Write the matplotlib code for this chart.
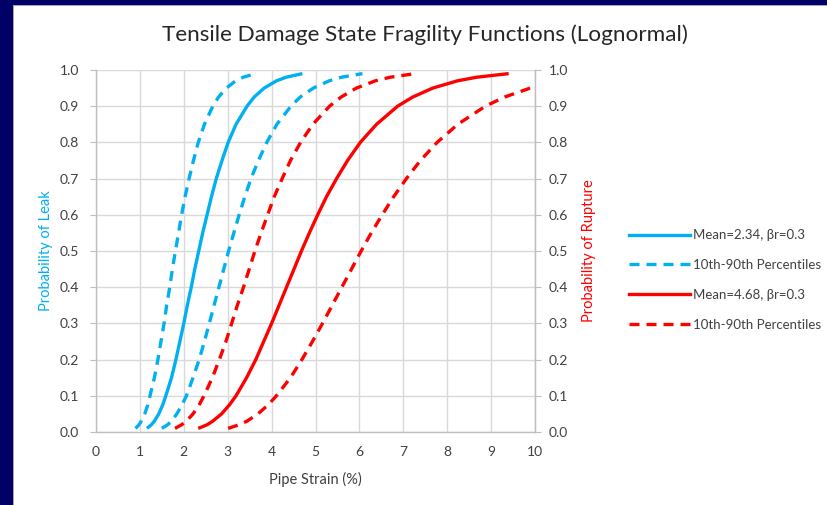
import matplotlib
matplotlib.use("Agg")
import matplotlib.pyplot as plt
from matplotlib.patches import Rectangle
from matplotlib.lines import Line2D

prob = [0.01, 0.02, 0.03, 0.05, 0.075, 0.10, 0.15, 0.20, 0.25, 0.30, 0.35, 0.40, 0.45,
        0.50, 0.55, 0.60, 0.65, 0.70, 0.75, 0.80, 0.85, 0.90, 0.925, 0.95, 0.97, 0.98, 0.99]

# Leak (blue) curves: pipe strain (%) at each probability level
leak_mean = [1.16, 1.26, 1.33, 1.43, 1.52, 1.59, 1.72, 1.82, 1.91, 2.00, 2.08, 2.17, 2.25,
             2.34, 2.43, 2.53, 2.63, 2.74, 2.87, 3.01, 3.19, 3.44, 3.60, 3.83, 4.11, 4.33, 4.70]
leak_p10 = [0.90, 0.98, 1.03, 1.11, 1.18, 1.23, 1.33, 1.41, 1.48, 1.55, 1.61, 1.68, 1.74,
            1.81, 1.88, 1.95, 2.03, 2.12, 2.22, 2.33, 2.47, 2.66, 2.79, 2.97, 3.18, 3.35, 3.64]
leak_p90 = [1.50, 1.63, 1.72, 1.84, 1.96, 2.06, 2.21, 2.35, 2.47, 2.58, 2.69, 2.80, 2.91,
            3.02, 3.14, 3.26, 3.39, 3.53, 3.70, 3.89, 4.12, 4.44, 4.65, 4.95, 5.31, 5.59, 6.07]

# Rupture (red) curves
rup_mean = [2.33, 2.53, 2.66, 2.86, 3.04, 3.19, 3.43, 3.64, 3.82, 4.00, 4.17, 4.34, 4.51,
            4.68, 4.86, 5.05, 5.25, 5.48, 5.73, 6.02, 6.39, 6.87, 7.21, 7.67, 8.23, 8.67, 9.40]
rup_p10 = [1.80, 1.95, 2.06, 2.21, 2.35, 2.46, 2.65, 2.81, 2.96, 3.09, 3.22, 3.36, 3.49,
           3.62, 3.76, 3.91, 4.06, 4.24, 4.43, 4.66, 4.94, 5.32, 5.58, 5.93, 6.36, 6.70, 7.27]
rup_p90 = [3.01, 3.26, 3.44, 3.69, 3.92, 4.11, 4.43, 4.69, 4.93, 5.16, 5.38, 5.60, 5.82,
           6.04, 6.27, 6.52, 6.78, 7.07, 7.39, 7.77, 8.24, 8.87, 9.30, 9.89, 10.62, 11.18, 12.14]

x_ticks = [0, 1, 2, 3, 4, 5, 6, 7, 8, 9, 10]
y_ticks = [0.0, 0.1, 0.2, 0.3, 0.4, 0.5, 0.6, 0.7, 0.8, 0.9, 1.0]
legend_labels = ["Mean=2.34, \u03b2r=0.3", "10th-90th Percentiles",
                 "Mean=4.68, \u03b2r=0.3", "10th-90th Percentiles"]

BLUE = "#00B0F0"
RED = "#FF0000"
GRID = "#D9D9D9"
TXT = "#404040"

plt.rcParams['font.family'] = ['Lato', 'DejaVu Sans']

fig = plt.figure(figsize=(8.27, 5.05), dpi=100)
fig.patch.set_facecolor("white")
W, H = 827, 505
# navy frame (top and left) with thin grey edge
fig.patches.append(Rectangle((0, 1 - 6 / H), 1, 6 / H, transform=fig.transFigure,
                             facecolor="#A6A6A6", edgecolor="none", zorder=0))
fig.patches.append(Rectangle((0, 0), 14 / W, 1, transform=fig.transFigure,
                             facecolor="#A6A6A6", edgecolor="none", zorder=0))
fig.patches.append(Rectangle((0, 1 - 5 / H), 1, 5 / H, transform=fig.transFigure,
                             facecolor="#000066", edgecolor="none", zorder=1))
fig.patches.append(Rectangle((0, 0), 13 / W, 1, transform=fig.transFigure,
                             facecolor="#000066", edgecolor="none", zorder=1))

ax = fig.add_axes([96 / W, 1 - 432 / H, (535 - 96) / W, (432 - 70) / H])
ax.set_xlim(0, 10)
ax.set_ylim(0, 1)
ax.set_xticks(x_ticks)
ax.set_yticks(y_ticks)
ax.set_yticklabels([f"{v:.1f}" for v in y_ticks])
ax.grid(True, color=GRID, linewidth=1.0)
ax.set_axisbelow(True)
ax.spines["top"].set_visible(False)
for s in ["left", "bottom", "right"]:
    ax.spines[s].set_color("#BFBFBF")
    ax.spines[s].set_linewidth(1.0)
ax.tick_params(axis="x", length=0, pad=10, labelsize=10, labelcolor=TXT)
ax.tick_params(axis="y", length=4, color="#BFBFBF", pad=8, labelsize=10, labelcolor=TXT)

lw = 2.4
dash = (0, (3.0, 2.1))
ax.plot(leak_mean, prob, color=BLUE, lw=lw, solid_capstyle="butt", solid_joinstyle="round")
ax.plot(leak_p10, prob, color=BLUE, lw=lw, linestyle=dash)
ax.plot(leak_p90, prob, color=BLUE, lw=lw, linestyle=dash)
ax.plot(rup_mean, prob, color=RED, lw=lw, solid_capstyle="butt", solid_joinstyle="round")
ax.plot(rup_p10, prob, color=RED, lw=lw, linestyle=dash)
ax.plot(rup_p90, prob, color=RED, lw=lw, linestyle=dash)

ax.set_xlabel("Pipe Strain (%)", fontsize=10.5, color=TXT, labelpad=10)
ax.set_ylabel("Probability of Leak", fontsize=10.5, color=BLUE, labelpad=5)

ax2 = ax.twinx()
ax2.set_ylim(0, 1)
ax2.set_yticks(y_ticks)
ax2.set_yticklabels([f"{v:.1f}" for v in y_ticks])
ax2.tick_params(axis="y", length=4, color="#BFBFBF", pad=6, labelsize=10, labelcolor=TXT)
for s in ["top", "left", "bottom"]:
    ax2.spines[s].set_visible(False)
ax2.spines["right"].set_color("#BFBFBF")
ax2.set_ylabel("Probability of Rupture", fontsize=10.5, color=RED, labelpad=10)

fig.text(0.5 * (163 + 686) / W, 1 - 35 / H,
         "Tensile Damage State Fragility Functions (Lognormal)",
         ha="center", va="center", fontsize=16.2, color="#262626")

handles = [
    Line2D([], [], color=BLUE, lw=lw),
    Line2D([], [], color=BLUE, lw=lw, linestyle=dash),
    Line2D([], [], color=RED, lw=lw),
    Line2D([], [], color=RED, lw=lw, linestyle=dash),
]
fig.legend(handles, legend_labels, loc="center left",
           bbox_to_anchor=(617 / W, 1 - 280 / H), frameon=False,
           fontsize=9.5, handlelength=4.6, handletextpad=0.25,
           labelspacing=1.35, labelcolor=TXT)

fig.savefig("out.png", dpi=100, facecolor=fig.get_facecolor())
